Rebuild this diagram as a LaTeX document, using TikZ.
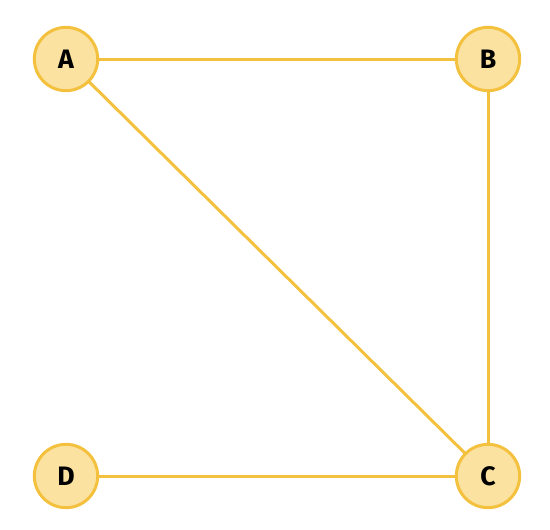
\documentclass[tikz,border=0pt]{standalone}
\usepackage{fontspec}
\setmainfont{Fira Sans}
\usepackage{xcolor}
\usepackage{tikz}
\usetikzlibrary{positioning}
\definecolor{vertexfill}{HTML}{FBE2A0}
\definecolor{vertexline}{HTML}{F4C13E}
\tikzstyle{vertex} = [circle, minimum size=47.5pt, inner sep=0pt, line width=2.25pt, draw=vertexline, fill=vertexfill, font=\fontsize{20}{24}\selectfont\bfseries]
\tikzstyle{edge} = [line width=2.25pt, draw=vertexline]

\begin{document}
\begin{tikzpicture}[x=0.75pt, y=-0.75pt]
	\useasboundingbox (0,0) rectangle (550,529);
	\coordinate (a) at (66,59);
	\coordinate (b) at (488,59);
	\coordinate (c) at (488,476);
	\coordinate (d) at (66,476);
	% Edges
	\begin{scope}[every path/.style={edge}]
	\draw (a)--(b);
	\draw (a)--(c);
	\draw (b)--(c);
	\draw (d)--(c);
	\end{scope}
	% Vertices
	\begin{scope}[every node/.style={vertex}]
	\node[name=A] at (a) {A};
	\node[name=B] at (b) {B};
	\node[name=C] at (c) {C};
	\node[name=D] at (d) {D};
	\end{scope}
\end{tikzpicture}
\end{document}
